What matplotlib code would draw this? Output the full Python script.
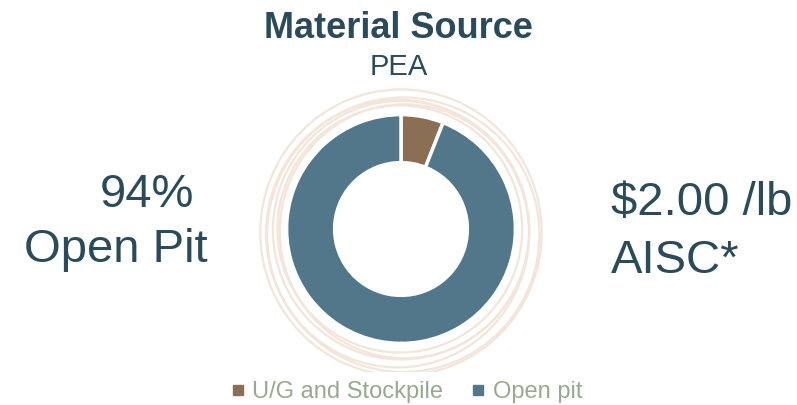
import matplotlib
matplotlib.use("Agg")
import matplotlib.pyplot as plt
from matplotlib.patches import Ellipse
from matplotlib.lines import Line2D

plt.rcParams['font.family'] = ['Liberation Sans', 'DejaVu Sans']

# data
labels = ['U/G and Stockpile', 'Open pit']
values = [6, 94]
colors = ['#8b6f55', '#52778b']
text_col = '#2b4b5b'

fig = plt.figure(figsize=(7.97, 4.05), dpi=100)

# pie axes: centre (401, 229) px, radius 1 -> 110 px
R = 110
half = 1.3 * R
ax = fig.add_axes([(401 - half) / 797, (405 - 229 - half) / 405, 2 * half / 797, 2 * half / 405])
ax.set_xlim(-1.3, 1.3)
ax.set_ylim(-1.3, 1.3)
ax.set_aspect('equal')
ax.axis('off')

# sketchy rings behind the donut
rings = [(0.0, -0.03, 2.46, 2.50), (0.02, -0.05, 2.38, 2.40), (-0.03, -0.04, 2.30, 2.34),
         (0.0, -0.01, 2.24, 2.26), (0.03, -0.02, 2.18, 2.22), (-0.01, 0.0, 2.14, 2.16)]
for cx, cy, w, h in rings:
    ax.add_patch(Ellipse((cx, cy), w, h, fill=False, ec='#f3e5db', lw=1.6, zorder=0))

ax.pie(values, colors=colors, startangle=90, counterclock=False, radius=1,
       wedgeprops=dict(width=0.42, edgecolor='white', linewidth=2.5))

fig.text(0.5, 1 - 38 / 405, 'Material Source', ha='center', va='baseline',
         fontsize=26, fontweight='bold', color=text_col)
fig.text(0.5, 1 - 75 / 405, 'PEA', ha='center', va='baseline', fontsize=21, color=text_col)

fig.text(194 / 797, 1 - 207 / 405, '94%', ha='right', va='baseline', fontsize=34, color=text_col)
fig.text(208 / 797, 1 - 262 / 405, 'Open Pit', ha='right', va='baseline', fontsize=34, color=text_col)
fig.text(611 / 797, 1 - 215 / 405, '$2.00 /lb', ha='left', va='baseline', fontsize=34, color=text_col)
fig.text(611 / 797, 1 - 273 / 405, 'AISC*', ha='left', va='baseline', fontsize=34, color=text_col)

handles = [Line2D([], [], marker='s', ls='', color=c, markersize=7) for c in colors]
leg = fig.legend(handles, labels, loc='center', bbox_to_anchor=(0.51, 1 - 392 / 405), ncol=2,
                 frameon=False, fontsize=17, handlelength=0.6, handletextpad=0.3,
                 columnspacing=1.2)
for t in leg.get_texts():
    t.set_color('#9aa88f')

fig.savefig('out.png', dpi=100)
